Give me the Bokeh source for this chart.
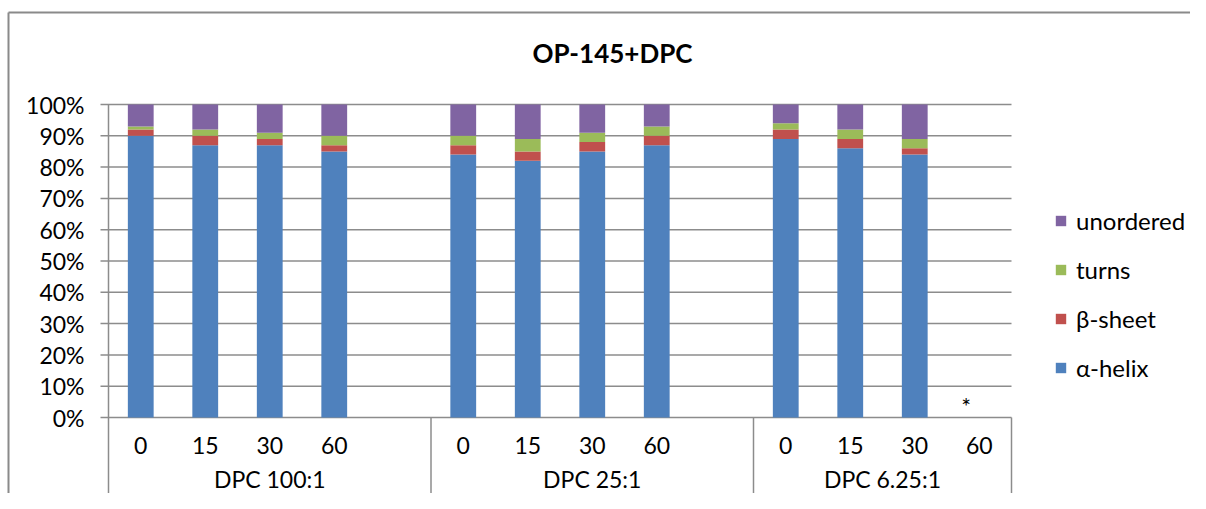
from bokeh.plotting import figure
from bokeh.models import ColumnDataSource, Legend, LegendItem, Range1d
from bokeh.core.properties import value
from bokeh.embed import file_html
from bokeh.resources import INLINE

# ---------------- data ----------------
title_text = "OP-145+DPC"
groups = ["DPC 100:1", "DPC 25:1", "DPC 6.25:1"]
times = ["0", "15", "30", "60"]
# percentages, in order group by group, time by time (last one = missing "*")
alpha_helix = [90, 87, 87, 85, 84, 82, 85, 87, 89, 86, 84, 0]
beta_sheet = [2, 3, 2, 2, 3, 3, 3, 3, 3, 3, 2, 0]
turns = [1, 2, 2, 3, 3, 4, 3, 3, 2, 3, 3, 0]
unordered = [7, 8, 9, 10, 10, 11, 9, 7, 6, 8, 11, 0]
missing_mark = ["", "", "", "", "", "", "", "", "", "", "", "*"]
series_names = ["α-helix", "β-sheet", "turns", "unordered"]
colors = ["#4F81BD", "#C0504D", "#9BBB59", "#8064A2"]
y_ticks = [0.0, 0.1, 0.2, 0.3, 0.4, 0.5, 0.6, 0.7, 0.8, 0.9, 1.0]
y_tick_labels = ["0%", "10%", "20%", "30%", "40%", "50%", "60%", "70%", "80%", "90%", "100%"]

FONT = value("Lato")
GRID = "#8C8C8C"
BORDER = "#8A8A8A"

# ---------------- layout of categories ----------------
slots_per_group = len(times) + 1          # one empty slot after each group
xs, labels = [], []
for g in range(len(groups)):
    for t, tl in enumerate(times):
        xs.append(g * slots_per_group + t)
        labels.append(tl)
x_end = xs[-1] + 0.5
bounds = [g * slots_per_group - 0.5 for g in range(len(groups))] + [x_end]
group_centers = [(bounds[i] + bounds[i + 1]) / 2 for i in range(len(groups))]

keys = ["a", "b", "t", "u"]
src = ColumnDataSource(dict(
    x=xs,
    a=[v / 100 for v in alpha_helix],
    b=[v / 100 for v in beta_sheet],
    t=[v / 100 for v in turns],
    u=[v / 100 for v in unordered],
    lab=labels,
    star=missing_mark,
))

# ---------------- geometry (pixels -> data units) ----------------
W, H = 1190, 493
plot_left_px = 108                       # where the value axis sits
plot_top_px = 104                        # where 100 % sits
unit_px = 64.5                           # pixels per category slot
y_px = 313.0                             # pixels per 100 %
x0 = bounds[0] - plot_left_px / unit_px
x1 = x0 + W / unit_px
y_top = 1.0 + plot_top_px / y_px
y_bottom = 1.0 - (H - plot_top_px) / y_px
dx = 1.0 / unit_px                       # one pixel in x data units
dy = 1.0 / y_px                          # one pixel in y data units

p = figure(width=W, height=H, output_backend="svg", toolbar_location=None,
           x_range=Range1d(x0, x1), y_range=Range1d(y_bottom, y_top),
           min_border_left=0, min_border_right=0, min_border_top=0,
           min_border_bottom=0, x_axis_type=None, y_axis_type=None)
p.outline_line_color = None
p.background_fill_color = "white"
p.border_fill_color = "white"
p.grid.visible = False

# chart-area border (left and top edges)
p.segment(x0=[x0 + 8 * dx, x0 + 8 * dx], y0=[y_bottom, y_top - 12 * dy],
          x1=[x0 + 8 * dx, x1], y1=[y_top - 12 * dy, y_top - 12 * dy],
          line_color=BORDER, line_width=2)

# horizontal gridlines (with outward tick marks) over the bar region
p.segment(x0=[bounds[0] - 8 * dx] * len(y_ticks), y0=y_ticks,
          x1=[x_end] * len(y_ticks), y1=y_ticks, line_color=GRID, line_width=1.5)
# value-axis labels
p.text(x=[bounds[0] - 24 * dx] * len(y_ticks), y=y_ticks, text=y_tick_labels,
       text_font=FONT, text_font_size="23px", text_align="right",
       text_baseline="middle", text_color="black")

# bars
rs = p.vbar_stack(keys, x="x", width=0.4, source=src, color=colors, line_color=None)

# axis line / group separators
p.segment(x0=[bounds[0]], y0=[y_bottom], x1=[bounds[0]], y1=[1.0],
          line_color=GRID, line_width=1.5)
p.segment(x0=bounds[1:], y0=[y_bottom] * (len(bounds) - 1), x1=bounds[1:],
          y1=[0.0] * (len(bounds) - 1), line_color=GRID, line_width=1.5)

# category labels
p.text(x="x", y=-28 * dy, text="lab", source=src, text_font=FONT,
       text_font_size="23px", text_align="center", text_baseline="middle",
       text_color="black")
p.text(x=group_centers, y=[-61 * dy] * len(groups), text=groups, text_font=FONT,
       text_font_size="23px", text_align="center", text_baseline="middle",
       text_color="black")
p.text(x="x", y=0.0, text="star", source=src, text_font=FONT,
       text_font_size="23px", text_align="center", text_baseline="middle",
       text_color="black", x_offset=-13, y_offset=-12)

# title
p.text(x=[(x0 + x1) / 2], y=[y_top - 52 * dy], text=[title_text], text_font=FONT,
       text_font_size="26px", text_font_style="bold", text_align="center",
       text_baseline="middle", text_color="black", x_offset=17)

# legend (reverse order: unordered on top), placed right of the bars
items = [LegendItem(label=series_names[i], renderers=[rs[i]]) for i in range(3, -1, -1)]
legend = Legend(items=items, location=(1054, 111), margin=0, padding=0,
                border_line_color=None, background_fill_alpha=0,
                glyph_width=13, glyph_height=13, label_standoff=9,
                label_text_font="Lato", label_text_font_size="24px",
                label_text_color="black", spacing=20)
p.add_layout(legend)

open("out.html", "w").write(file_html(p, INLINE))
